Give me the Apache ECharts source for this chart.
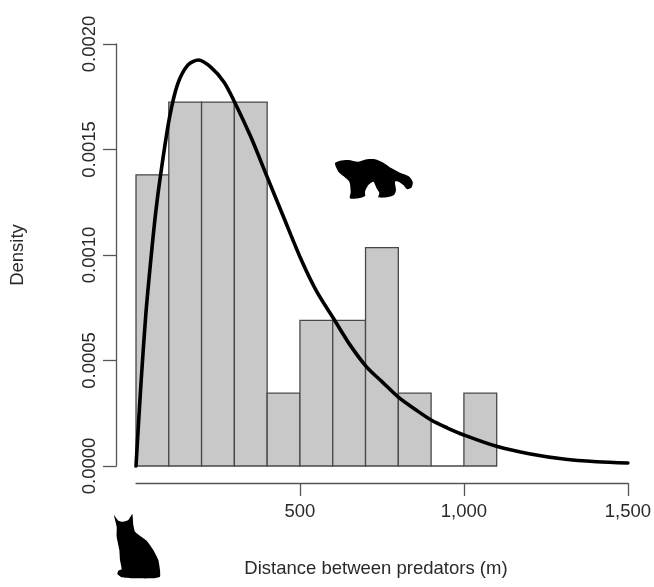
<!DOCTYPE html>
<html><head><meta charset="utf-8">
<style>html,body{margin:0;padding:0;background:#fff}#c{width:654px;height:587px}</style>
<script src="https://cdn.jsdelivr.net/npm/echarts@6/dist/echarts.min.js"></script>
</head><body><div id="c"></div>
<script>
const binStarts = [0,100,200,300,400,500,600,700,800,900,1000];
const binWidth = 100;
const densities = [0.00138,0.001725,0.001725,0.001725,0.000345,0.00069,0.00069,0.001035,0.000345,0,0.000345];
const curveX = [0,8,16,30,46,60,75,102,127,158,191,228,268,299,350,400,450,506,550,602,650,703,750,801,850,900,950,1000,1102,1203,1304,1405,1500];
const curveY = [0,0.00021,0.00041,0.00072,0.00099,0.00120,0.00138,0.00165,0.00181,0.00190,0.001924,0.00189,0.00182,0.00173,0.00156,0.00137,0.00118,0.00097,0.00083,0.00070,0.00058,0.00047,0.00040,0.000325,0.00027,0.000218,0.00018,0.000147,0.000092,0.000057,0.000033,0.00002,0.000014];
const wolverine = [[45,70],[60,62],[85,60],[115,65],[140,58],[165,58],[190,68],[215,85],[240,98],[265,108],[278,125],[275,142],[262,148],[250,135],[235,125],[225,125],[228,150],[222,165],[200,172],[175,172],[178,160],[170,145],[160,125],[145,135],[135,155],[135,168],[115,175],[90,175],[92,155],[88,125],[70,108],[55,95]];
const cat = [[72,135],[85,152],[100,155],[115,150],[127,132],[130,165],[135,185],[150,197],[170,212],[190,240],[205,270],[210,300],[210,320],[190,325],[130,325],[95,322],[82,312],[85,302],[95,298],[90,270],[88,240],[80,200],[80,170]];
const FONT = '"Liberation Sans", Arial, sans-serif';
const axisCol = '#555555', textCol = '#2a2a2a';
const chart = echarts.init(document.getElementById('c'), null, {renderer:'canvas'});
chart.setOption({
  animation:false,
  backgroundColor:'#ffffff',
  grid:{left:133,top:44,width:495,height:422,containLabel:false},
  xAxis:{type:'value',min:0,max:1500,interval:500,offset:17,
    axisLine:{show:true,onZero:false,lineStyle:{color:axisCol,width:1.3}},
    axisTick:{show:true,length:13,lineStyle:{color:axisCol,width:1.3}},
    splitLine:{show:false},
    axisLabel:{fontFamily:FONT,fontSize:18.5,color:textCol,margin:19,showMinLabel:false,hideOverlap:false},
    name:'Distance between predators (m)',nameLocation:'middle',nameGap:76,
    nameTextStyle:{fontFamily:FONT,fontSize:18.5,color:textCol,padding:[0,12,0,0]}},
  yAxis:{type:'value',min:0,max:0.002,interval:0.0005,offset:20,
    axisLine:{show:true,onZero:false,lineStyle:{color:axisCol,width:1.3}},
    axisTick:{show:true,length:13,lineStyle:{color:axisCol,width:1.3}},
    splitLine:{show:false},
    axisLabel:{fontFamily:FONT,fontSize:18.5,color:textCol,rotate:90,margin:17,
      formatter:v=>v.toFixed(4),showMinLabel:true,showMaxLabel:true,hideOverlap:false},
    name:'Density',nameLocation:'middle',nameGap:89,nameRotate:90,
    nameTextStyle:{fontFamily:FONT,fontSize:18.5,color:textCol}},
  series:[
    {type:'custom',clip:false,z:2,
     data:binStarts.map((s,i)=>[s,densities[i]]),
     encode:{x:0,y:1},
     renderItem:(p,api)=>{
       const a=api.coord([api.value(0),0]), b=api.coord([api.value(0)+binWidth,api.value(1)]);
       return {type:'rect',shape:{x:a[0],y:b[1],width:b[0]-a[0],height:a[1]-b[1]},
         style:{fill:'#c8c8c8',stroke:'#484848',lineWidth:1.3}};
     }},
    {type:'line',z:3,clip:false,symbol:'none',smooth:0.3,
     data:curveX.map((x,i)=>[x,curveY[i]]),
     lineStyle:{color:'#000000',width:3.6,cap:'round'}}
  ],
  graphic:[
    {type:'polygon',x:320,y:140,scaleX:1/3,scaleY:1/3,z:5,shape:{points:wolverine,smooth:0.25},style:{fill:'#000'}},
    {type:'polygon',x:90,y:470,scaleX:1/3,scaleY:1/3,z:5,shape:{points:cat,smooth:0.15},style:{fill:'#000'}}
  ]
});
</script></body></html>
